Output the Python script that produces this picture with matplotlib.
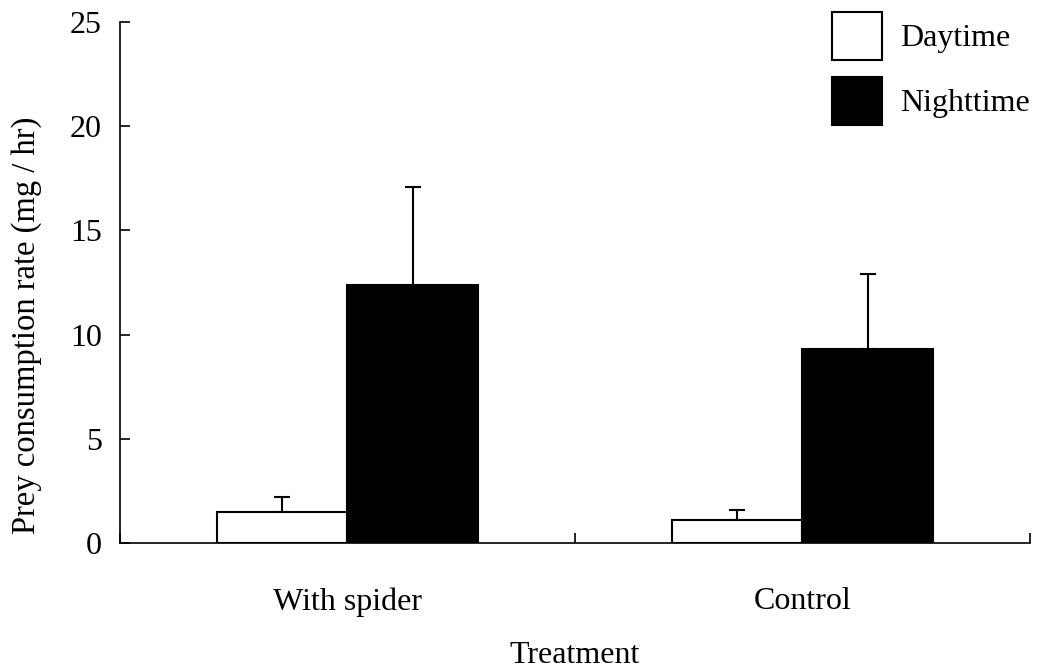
import matplotlib
matplotlib.use("Agg")
import matplotlib.pyplot as plt
import numpy as np

categories = ["With spider", "Control"]
day_mean = [1.5, 1.1]
day_se = [0.7, 0.5]
night_mean = [12.4, 9.3]
night_se = [4.7, 3.6]

plt.rcParams["font.family"] = ["Liberation Serif", "DejaVu Serif"]
FS = 23

fig = plt.figure(figsize=(10.37, 6.69), dpi=100)
ax = fig.add_axes([0.1157, 0.1883, 0.8775, 0.7787])

x = np.arange(len(categories))
w = 0.286
zeros = [0, 0]
ax.bar(x - w / 2, day_mean, w, color="white", edgecolor="black", lw=1.5,
       label="Daytime", zorder=2)
ax.bar(x + w / 2, night_mean, w, color="black", edgecolor="black", lw=1.5,
       label="Nighttime", zorder=2)
ax.errorbar(x - w / 2, day_mean, yerr=[zeros, day_se], fmt="none",
            ecolor="black", elinewidth=1.5, capsize=5.8, capthick=1.5, zorder=1)
ax.errorbar(x + w / 2, night_mean, yerr=[zeros, night_se], fmt="none",
            ecolor="black", elinewidth=1.5, capsize=5.8, capthick=1.5, zorder=1)

ax.set_xlim(-0.5, 1.5)
ax.set_ylim(0, 25)
ax.set_yticks([0, 5, 10, 15, 20, 25])
ax.set_xticks(x)
ax.set_xticklabels(categories)
ax.set_xticks([-0.5, 0.5, 1.5], minor=True)
ax.tick_params(axis="x", which="major", length=0, labelsize=FS, pad=32)
ax.tick_params(axis="x", which="minor", direction="in", length=7, width=1.2)
ax.tick_params(axis="y", direction="in", length=7, width=1.2, labelsize=FS,
               pad=13)

for s in ["top", "right"]:
    ax.spines[s].set_visible(False)
for s in ["left", "bottom"]:
    ax.spines[s].set_linewidth(1.2)

ax.set_ylabel("Prey consumption rate (mg / hr)", fontsize=23.5)
ax.yaxis.set_label_coords(-0.0857, 0.418)
ax.set_xlabel("Treatment", fontsize=FS, labelpad=17)

ax.legend(loc="upper right", bbox_to_anchor=(0.993, 0.982),
          bbox_transform=fig.transFigure, frameon=False, fontsize=FS,
          handlelength=1.56, handleheight=1.93, labelspacing=0.53,
          handletextpad=0.56, borderpad=0, borderaxespad=0)

fig.savefig("out.png", dpi=100)
